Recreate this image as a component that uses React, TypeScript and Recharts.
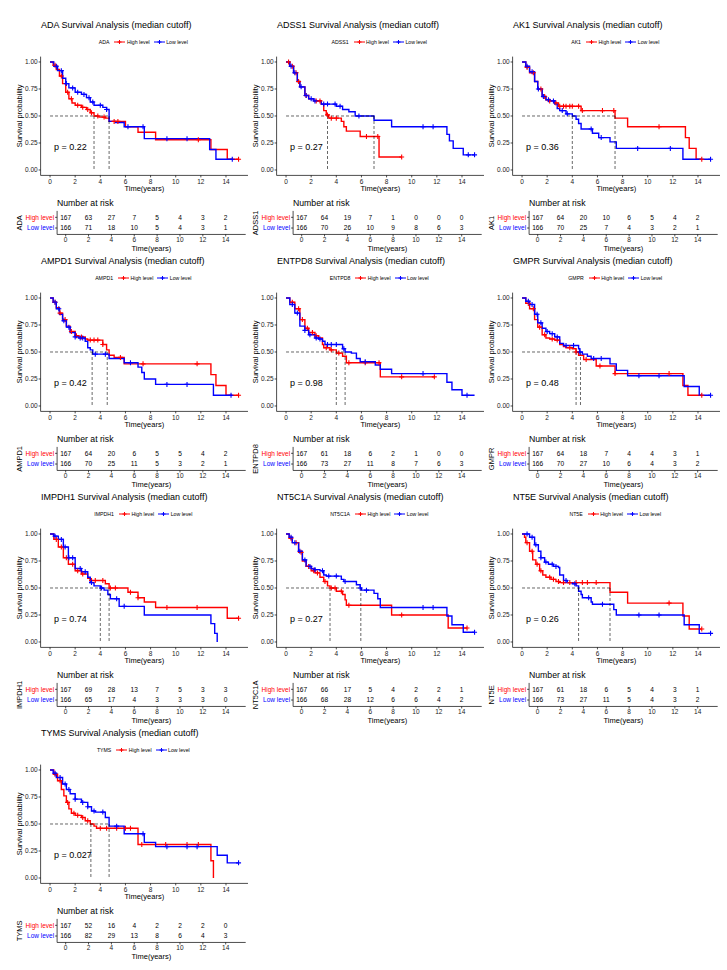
import React from 'react';
import { LineChart, Line, XAxis, YAxis } from 'recharts';

const FONT = '"Liberation Sans", Arial, Helvetica, sans-serif';
const RED = '#FF0000';
const BLUE = '#0000FF';

const genes = ['ADA', 'ADSS1', 'AK1', 'AMPD1', 'ENTPD8', 'GMPR', 'IMPDH1', 'NT5C1A', 'NT5E', 'TYMS'];
const pValues = ['0.22', '0.27', '0.36', '0.42', '0.98', '0.48', '0.74', '0.27', '0.26', '0.027'];
const timeTicks = [0, 2, 4, 6, 8, 10, 12, 14];
const survTicks = [0, 0.25, 0.5, 0.75, 1];

// KM steps [time, survival], last pair = end of follow-up
const highCurves: number[][][] = [
  [[0, 1], [0.25, 0.97], [0.5, 0.93], [0.75, 0.87], [1.0, 0.8], [1.25, 0.72], [1.5, 0.66], [1.75, 0.62], [2.0, 0.6], [2.5, 0.58], [2.9, 0.56], [3.2, 0.53], [3.5, 0.5], [3.9, 0.49], [4.4, 0.48], [4.7, 0.45], [6.0, 0.4], [7.0, 0.35], [8.4, 0.28], [12.8, 0.19], [14.1, 0.1], [15.0, 0.1]],
  [[0, 1], [0.3, 0.96], [0.6, 0.9], [0.9, 0.82], [1.1, 0.77], [1.5, 0.69], [1.8, 0.66], [2.2, 0.64], [2.8, 0.61], [3.0, 0.55], [3.2, 0.51], [3.4, 0.48], [4.4, 0.45], [4.6, 0.4], [4.8, 0.36], [5.9, 0.31], [7.4, 0.12], [9.2, 0.12]],
  [[0, 1], [0.3, 0.95], [0.6, 0.9], [1.0, 0.82], [1.25, 0.75], [1.6, 0.68], [1.9, 0.65], [2.2, 0.64], [2.6, 0.62], [2.9, 0.59], [4.7, 0.55], [7.4, 0.48], [8.4, 0.4], [13.0, 0.3], [13.3, 0.2], [13.85, 0.1], [14.3, 0.1]],
  [[0, 1], [0.25, 0.96], [0.5, 0.91], [0.75, 0.86], [1.0, 0.8], [1.3, 0.74], [1.6, 0.69], [2.0, 0.65], [2.3, 0.64], [2.8, 0.62], [3.0, 0.61], [4.2, 0.57], [4.5, 0.52], [4.7, 0.47], [5.1, 0.45], [5.9, 0.39], [12.8, 0.29], [13.2, 0.19], [14.0, 0.1], [15.0, 0.1]],
  [[0, 1], [0.3, 0.96], [0.7, 0.9], [1.1, 0.8], [1.5, 0.72], [1.8, 0.68], [2.3, 0.65], [2.6, 0.63], [2.9, 0.57], [3.0, 0.54], [3.5, 0.52], [4.0, 0.49], [4.5, 0.46], [4.8, 0.4], [7.5, 0.27], [11.8, 0.27]],
  [[0, 1], [0.3, 0.95], [0.6, 0.9], [1.0, 0.8], [1.25, 0.73], [1.6, 0.66], [1.9, 0.63], [2.2, 0.62], [2.6, 0.61], [3.0, 0.57], [3.3, 0.55], [3.5, 0.54], [4.0, 0.53], [4.3, 0.5], [4.5, 0.47], [4.9, 0.43], [5.9, 0.37], [7.4, 0.3], [12.8, 0.19], [13.2, 0.1], [14.3, 0.1]],
  [[0, 1], [0.3, 0.95], [0.66, 0.88], [1.06, 0.78], [1.46, 0.72], [2.0, 0.66], [2.5, 0.63], [3.0, 0.59], [3.2, 0.57], [4.4, 0.54], [4.7, 0.5], [6.2, 0.46], [7.0, 0.41], [7.5, 0.37], [8.4, 0.32], [14.1, 0.22], [15.0, 0.22]],
  [[0, 1], [0.25, 0.96], [0.5, 0.92], [1.0, 0.83], [1.3, 0.75], [1.6, 0.7], [2.0, 0.66], [2.3, 0.64], [2.7, 0.6], [3.0, 0.56], [3.3, 0.52], [3.5, 0.5], [4.0, 0.47], [4.5, 0.44], [4.7, 0.39], [4.8, 0.34], [8.4, 0.25], [12.9, 0.13], [14.4, 0.13]],
  [[0, 1], [0.2, 0.97], [0.3, 0.92], [0.6, 0.84], [0.85, 0.76], [1.1, 0.72], [1.4, 0.66], [1.65, 0.62], [1.9, 0.6], [2.3, 0.58], [2.7, 0.56], [3.0, 0.55], [7.0, 0.46], [8.4, 0.36], [12.8, 0.24], [13.3, 0.12], [14.3, 0.12]],
  [[0, 1], [0.3, 0.96], [0.6, 0.9], [0.9, 0.82], [1.1, 0.76], [1.3, 0.7], [1.5, 0.64], [1.7, 0.6], [2.0, 0.58], [2.5, 0.56], [2.8, 0.53], [3.2, 0.5], [3.5, 0.48], [3.7, 0.46], [7.0, 0.31], [12.8, 0.16], [13.0, 0.0]],
];

const lowCurves: number[][][] = [
  [[0, 1], [0.3, 0.96], [0.6, 0.92], [1.0, 0.85], [1.25, 0.8], [1.5, 0.76], [2.0, 0.72], [2.5, 0.7], [2.9, 0.67], [3.2, 0.63], [3.5, 0.6], [4.2, 0.58], [4.5, 0.56], [4.7, 0.45], [5.2, 0.44], [5.9, 0.4], [7.5, 0.29], [12.7, 0.19], [13.2, 0.1], [14.5, 0.1]],
  [[0, 1], [0.3, 0.96], [0.6, 0.9], [0.9, 0.82], [1.1, 0.77], [1.5, 0.69], [1.8, 0.66], [2.2, 0.64], [2.8, 0.61], [4.0, 0.59], [4.5, 0.56], [5.0, 0.54], [5.5, 0.5], [7.0, 0.46], [8.4, 0.4], [12.8, 0.33], [13.0, 0.27], [13.3, 0.2], [14.1, 0.14], [15.0, 0.14]],
  [[0, 1], [0.3, 0.96], [0.6, 0.91], [1.0, 0.82], [1.25, 0.75], [1.6, 0.68], [1.9, 0.65], [2.2, 0.64], [2.6, 0.61], [2.8, 0.57], [3.0, 0.55], [3.5, 0.52], [4.0, 0.5], [4.3, 0.47], [4.5, 0.43], [4.7, 0.38], [5.6, 0.34], [6.1, 0.3], [7.0, 0.26], [7.5, 0.2], [12.8, 0.1], [15.0, 0.1]],
  [[0, 1], [0.25, 0.96], [0.5, 0.9], [0.75, 0.85], [1.0, 0.79], [1.3, 0.73], [1.6, 0.68], [2.0, 0.64], [2.3, 0.63], [2.8, 0.6], [3.0, 0.54], [3.2, 0.52], [3.4, 0.48], [4.7, 0.44], [5.9, 0.4], [7.0, 0.36], [7.3, 0.31], [7.5, 0.25], [8.4, 0.2], [13.0, 0.1], [14.5, 0.1]],
  [[0, 1], [0.3, 0.94], [0.7, 0.86], [1.1, 0.74], [1.5, 0.7], [1.8, 0.66], [2.3, 0.63], [2.6, 0.62], [2.9, 0.6], [3.1, 0.57], [4.5, 0.53], [4.7, 0.5], [5.2, 0.49], [5.6, 0.44], [5.9, 0.41], [7.1, 0.38], [7.5, 0.34], [8.4, 0.3], [12.8, 0.22], [13.2, 0.15], [14.0, 0.1], [15.0, 0.1]],
  [[0, 1], [0.3, 0.97], [0.6, 0.94], [1.0, 0.85], [1.25, 0.77], [1.6, 0.72], [1.9, 0.69], [2.2, 0.67], [2.6, 0.64], [3.0, 0.58], [3.3, 0.56], [4.5, 0.53], [4.6, 0.5], [4.8, 0.48], [5.2, 0.46], [5.5, 0.44], [7.0, 0.39], [7.5, 0.33], [8.4, 0.28], [12.9, 0.18], [14.1, 0.1], [15.0, 0.1]],
  [[0, 1], [0.3, 0.98], [0.66, 0.95], [1.06, 0.88], [1.46, 0.78], [2.0, 0.68], [2.5, 0.65], [3.0, 0.6], [3.2, 0.55], [3.5, 0.52], [4.0, 0.5], [4.3, 0.48], [4.6, 0.44], [4.8, 0.4], [5.5, 0.33], [7.5, 0.25], [12.8, 0.17], [13.1, 0.08], [13.3, 0.0]],
  [[0, 1], [0.25, 0.97], [0.5, 0.92], [1.0, 0.84], [1.3, 0.76], [1.6, 0.7], [2.0, 0.68], [2.3, 0.67], [2.7, 0.66], [3.0, 0.62], [3.2, 0.61], [4.4, 0.58], [4.6, 0.56], [5.6, 0.53], [5.9, 0.5], [6.0, 0.48], [7.0, 0.45], [7.3, 0.4], [7.5, 0.32], [12.8, 0.24], [13.2, 0.16], [14.1, 0.09], [15.0, 0.09]],
  [[0, 1], [0.6, 0.97], [1.0, 0.9], [1.3, 0.84], [1.5, 0.78], [1.8, 0.74], [2.1, 0.72], [2.5, 0.7], [2.9, 0.69], [3.0, 0.62], [3.3, 0.57], [3.6, 0.55], [4.0, 0.54], [4.3, 0.52], [4.5, 0.47], [4.7, 0.44], [4.8, 0.41], [5.5, 0.37], [5.6, 0.35], [7.3, 0.3], [7.5, 0.25], [12.9, 0.16], [14.1, 0.08], [15.0, 0.08]],
  [[0, 1], [0.25, 0.97], [0.5, 0.93], [1.0, 0.87], [1.3, 0.82], [1.6, 0.78], [2.0, 0.73], [2.5, 0.7], [3.0, 0.66], [3.3, 0.62], [3.6, 0.61], [4.4, 0.56], [4.7, 0.48], [5.9, 0.41], [7.5, 0.33], [8.4, 0.29], [13.3, 0.21], [14.1, 0.14], [15.0, 0.14]],
];

// censored times
const highCensored = [
  [0.4, 0.9, 1.4, 1.7, 2.2, 2.6, 3.0, 3.3, 3.8, 4.3, 5.1, 5.4, 11.8, 15.0],
  [0.2, 0.5, 0.8, 1.0, 1.6, 2.4, 2.7, 3.3, 3.6, 4.0, 6.4, 7.3, 9.2],
  [0.4, 0.9, 1.5, 1.8, 2.2, 2.7, 3.0, 3.3, 3.5, 3.8, 4.0, 4.5, 4.8, 6.4, 7.3, 10.9, 14.3],
  [0.4, 0.8, 1.2, 1.7, 2.1, 2.5, 3.2, 3.5, 3.8, 4.2, 5.6, 7.4, 11.7, 15.0],
  [0.5, 1.0, 1.3, 1.7, 2.1, 2.4, 3.2, 3.6, 4.2, 5.0, 6.3, 7.4, 9.2, 11.8],
  [0.5, 0.9, 1.4, 1.8, 2.4, 2.8, 3.8, 4.3, 5.1, 6.2, 7.4, 11.7, 14.3],
  [0.5, 0.9, 1.3, 1.8, 2.2, 2.6, 3.3, 3.6, 4.2, 4.8, 5.2, 6.4, 7.0, 9.3, 11.7, 15.0],
  [0.4, 0.8, 1.2, 1.8, 2.2, 2.5, 3.1, 3.6, 3.9, 4.4, 5.0, 9.2, 14.4],
  [0.4, 0.8, 1.2, 1.5, 2.2, 2.5, 2.9, 3.3, 3.8, 4.3, 4.8, 5.2, 5.9, 11.7, 14.3],
  [0.4, 0.8, 1.4, 1.9, 2.2, 2.6, 3.0, 4.0, 4.5, 5.3, 6.0, 6.4, 7.3, 9.2, 10.9, 11.8],
];
const lowCensored = [
  [0.5, 0.9, 1.3, 1.8, 2.2, 2.7, 3.1, 3.4, 4.0, 4.5, 6.2, 7.4, 9.3, 10.9, 14.5],
  [0.4, 0.7, 1.2, 1.6, 2.0, 2.3, 3.0, 3.3, 3.9, 4.3, 5.8, 10.9, 11.7, 14.5, 15.0],
  [0.4, 0.8, 1.3, 1.7, 2.1, 2.5, 3.2, 3.6, 5.5, 6.3, 9.2, 11.8, 15.0],
  [0.4, 0.7, 1.1, 1.5, 2.0, 2.4, 2.6, 3.6, 4.4, 6.4, 9.3, 10.9, 14.4],
  [0.5, 0.9, 1.5, 1.9, 2.4, 2.7, 3.3, 3.6, 4.0, 4.6, 6.3, 10.9, 14.4],
  [0.5, 0.8, 1.2, 1.5, 2.0, 2.4, 2.8, 3.5, 4.1, 4.6, 5.7, 6.3, 9.3, 10.9, 15.0],
  [0.4, 0.9, 1.2, 1.5, 1.8, 2.4, 2.8, 3.3, 4.1, 5.3, 5.9],
  [0.4, 0.7, 1.1, 1.5, 1.9, 2.3, 2.9, 3.4, 4.0, 4.7, 5.9, 6.4, 10.9, 11.7, 15.0],
  [0.4, 0.8, 1.1, 1.5, 1.9, 2.4, 2.7, 3.5, 4.2, 5.3, 6.4, 9.3, 10.9, 15.0],
  [0.4, 0.8, 1.2, 1.5, 2.0, 2.6, 3.0, 3.5, 4.2, 5.3, 7.4, 9.3, 10.9, 11.7, 15.0],
];

const highMedian = [3.5, 3.3, 7.4, 4.55, 4.0, 4.3, 4.7, 3.5, 7.0, 3.25];
const lowMedian = [4.7, 7.0, 4.0, 3.35, 4.7, 4.65, 4.0, 5.95, 4.5, 4.7];

const highRisk = [
  [167, 63, 27, 7, 5, 4, 3, 2],
  [167, 64, 19, 7, 1, 0, 0, 0],
  [167, 64, 20, 10, 6, 5, 4, 2],
  [167, 64, 20, 6, 5, 5, 4, 2],
  [167, 61, 18, 6, 2, 1, 0, 0],
  [167, 64, 18, 7, 4, 4, 3, 1],
  [167, 69, 28, 13, 7, 5, 3, 3],
  [167, 66, 17, 5, 4, 2, 2, 1],
  [167, 61, 18, 6, 5, 4, 3, 1],
  [167, 52, 16, 4, 2, 2, 2, 0],
];
const lowRisk = [
  [166, 71, 18, 10, 5, 4, 3, 1],
  [166, 70, 26, 10, 9, 8, 6, 3],
  [166, 70, 25, 7, 4, 3, 2, 1],
  [166, 70, 25, 11, 5, 3, 2, 1],
  [166, 73, 27, 11, 8, 7, 6, 3],
  [166, 70, 27, 10, 6, 4, 3, 2],
  [166, 65, 17, 4, 3, 3, 3, 0],
  [166, 68, 28, 12, 6, 6, 4, 2],
  [166, 73, 27, 11, 5, 4, 3, 2],
  [166, 82, 29, 13, 8, 6, 4, 3],
];

const toPts = (c: number[][]) => c.map(([t, s]) => ({ t, s }));

const survAt = (c: number[][], t: number) => {
  let s = 1;
  for (const [ti, si] of c) if (ti <= t) s = si;
  return s;
};

const plus = (color: string) => (p: any) => {
  if (p.cx == null || p.cy == null || isNaN(p.cx)) return <g key={'n' + p.index} />;
  return (
    <path
      key={'c' + p.index}
      d={`M${p.cx - 2.5},${p.cy}h5M${p.cx},${p.cy - 2.5}v5`}
      stroke={color}
      strokeWidth={1.1}
      fill="none"
    />
  );
};

const riskNum = (p: any) => (
  <text
    key={'r' + p.index}
    x={p.cx}
    y={p.cy}
    dy="0.36em"
    textAnchor="middle"
    fontSize={6.6}
    fontFamily={FONT}
    fill="#000"
  >
    {p.payload.n}
  </text>
);

const riskTick = (p: any) => {
  const hi = p.payload.value === 1;
  return (
    <text x={p.x} y={p.y} dy="0.355em" textAnchor="end" fontSize={6.5} fontFamily={FONT} fill={hi ? RED : BLUE}>
      {hi ? 'High level' : 'Low level'}
    </text>
  );
};

const tickStyle = { fontSize: 6.5, fill: '#222', fontFamily: FONT };
const axisStyle = { stroke: '#000', strokeWidth: 0.7 };

function Txt(props: { x: number; y: number; size: number; text: string; center?: boolean; rotate?: boolean }) {
  const { x, y, size, text, center, rotate } = props;
  const h = size * 1.3;
  const style: React.CSSProperties = {
    position: 'absolute',
    top: y - h / 2,
    height: h,
    lineHeight: `${h}px`,
    fontSize: size,
    fontFamily: FONT,
    whiteSpace: 'nowrap',
    color: '#000',
  };
  if (center || rotate) {
    style.left = x - 100;
    style.width = 200;
    style.textAlign = 'center';
  } else {
    style.left = x;
  }
  if (rotate) style.transform = 'rotate(-90deg)';
  return <div style={style}>{text}</div>;
}

function LegendKey({ color }: { color: string }) {
  return (
    <svg width={11} height={6} style={{ display: 'block' }}>
      <line x1={0} y1={3} x2={11} y2={3} stroke={color} strokeWidth={1} />
      <path d="M3.5,3h4M5.5,1v4" stroke={color} strokeWidth={1} />
    </svg>
  );
}

function Panel({ i }: { i: number }) {
  const left = (i % 3) * 236;
  const top = Math.floor(i / 3) * 236;
  const gene = genes[i];
  const hiCens = highCensored[i].map((t) => ({ t, s: survAt(highCurves[i], t) }));
  const loCens = lowCensored[i].map((t) => ({ t, s: survAt(lowCurves[i], t) }));
  const mMax = Math.max(highMedian[i], lowMedian[i]);
  const hLine = [{ t: 0, s: 0.5 }, { t: mMax, s: 0.5 }];
  const vHigh = [{ t: highMedian[i], s: 0.5 }, { t: highMedian[i], s: 0 }];
  const vLow = [{ t: lowMedian[i], s: 0.5 }, { t: lowMedian[i], s: 0 }];
  const riskHi = timeTicks.map((t, k) => ({ t, s: 1, n: highRisk[i][k] }));
  const riskLo = timeTicks.map((t, k) => ({ t, s: 0, n: lowRisk[i][k] }));
  const legendText = { fontSize: 5.2, fontFamily: FONT, color: '#000', whiteSpace: 'nowrap' as const };

  return (
    <div style={{ position: 'absolute', left, top, width: 252, height: 256 }}>
      <Txt x={41} y={26.3} size={9} text={`${gene} Survival Analysis (median cutoff)`} />
      <div
        style={{
          position: 'absolute',
          left: 43.3,
          width: 200,
          top: 38.3,
          height: 8,
          display: 'flex',
          justifyContent: 'center',
          alignItems: 'center',
        }}
      >
        <span style={{ ...legendText, marginRight: 5 }}>{gene}</span>
        <LegendKey color={RED} />
        <span style={{ ...legendText, marginLeft: 1.5, marginRight: 4 }}>High level</span>
        <LegendKey color={BLUE} />
        <span style={{ ...legendText, marginLeft: 1.5 }}>Low level</span>
      </div>

      <div style={{ position: 'absolute', left: 0, top: 40 }}>
        <LineChart width={252} height={155.4} margin={{ top: 16.6, right: 4, bottom: 0, left: 0 }}>
          <XAxis
            type="number"
            dataKey="t"
            domain={[-0.75, 15.75]}
            ticks={timeTicks}
            interval={0}
            allowDataOverflow
            height={20}
            tick={tickStyle}
            tickSize={2}
            tickMargin={2}
            axisLine={axisStyle}
            tickLine={axisStyle}
          />
          <YAxis
            type="number"
            domain={[-0.05, 1.05]}
            ticks={survTicks}
            interval={0}
            allowDataOverflow
            width={40.6}
            tickFormatter={(v: number) => v.toFixed(2)}
            tick={tickStyle}
            tickSize={2}
            tickMargin={1}
            axisLine={axisStyle}
            tickLine={axisStyle}
          />
          <Line data={toPts(highCurves[i])} dataKey="s" type="stepAfter" stroke={RED} strokeWidth={1.4} dot={false} activeDot={false} isAnimationActive={false} />
          <Line data={toPts(lowCurves[i])} dataKey="s" type="stepAfter" stroke={BLUE} strokeWidth={1.4} dot={false} activeDot={false} isAnimationActive={false} />
          <Line data={hiCens} dataKey="s" stroke="none" dot={plus(RED)} activeDot={false} isAnimationActive={false} />
          <Line data={loCens} dataKey="s" stroke="none" dot={plus(BLUE)} activeDot={false} isAnimationActive={false} />
          <Line data={hLine} dataKey="s" type="linear" stroke="#000" strokeWidth={0.6} strokeDasharray="3 2" dot={false} activeDot={false} isAnimationActive={false} />
          <Line data={vHigh} dataKey="s" type="linear" stroke="#000" strokeWidth={0.6} strokeDasharray="3 2" dot={false} activeDot={false} isAnimationActive={false} />
          <Line data={vLow} dataKey="s" type="linear" stroke="#000" strokeWidth={0.6} strokeDasharray="3 2" dot={false} activeDot={false} isAnimationActive={false} />
        </LineChart>
      </div>

      <Txt x={20} y={116} size={7.5} text="Survival probability" rotate />
      <Txt x={144.3} y={189} size={7.5} text="Time(years)" center />
      <Txt x={54} y={148} size={9} text={`p = ${pValues[i]}`} />

      <Txt x={57} y={203.5} size={8.7} text="Number at risk" />
      <div style={{ position: 'absolute', left: 0, top: 205 }}>
        <LineChart width={250} height={41.44} margin={{ top: 5.9, right: 4.3, bottom: 0, left: 0 }}>
          <XAxis
            type="number"
            dataKey="t"
            domain={[-0.75, 15.75]}
            ticks={timeTicks}
            interval={0}
            allowDataOverflow
            height={12}
            tick={tickStyle}
            tickSize={2}
            tickMargin={1}
            axisLine={axisStyle}
            tickLine={axisStyle}
          />
          <YAxis
            type="number"
            domain={[-0.6, 1.6]}
            ticks={[0, 1]}
            interval={0}
            allowDataOverflow
            width={57.1}
            tick={riskTick}
            tickSize={2}
            tickMargin={1}
            axisLine={axisStyle}
            tickLine={axisStyle}
          />
          <Line data={riskHi} dataKey="s" stroke="none" dot={riskNum} activeDot={false} isAnimationActive={false} />
          <Line data={riskLo} dataKey="s" stroke="none" dot={riskNum} activeDot={false} isAnimationActive={false} />
        </LineChart>
      </div>
      <Txt x={20} y={222.7} size={7.5} text={gene} rotate />
      <Txt x={151.4} y={248.6} size={7.5} text="Time(years)" center />
    </div>
  );
}

export default function App() {
  return (
    <div style={{ position: 'absolute', left: 0, top: 0, width: 727, height: 970, background: '#fff' }}>
      {genes.map((g, i) => (
        <Panel key={g} i={i} />
      ))}
    </div>
  );
}
